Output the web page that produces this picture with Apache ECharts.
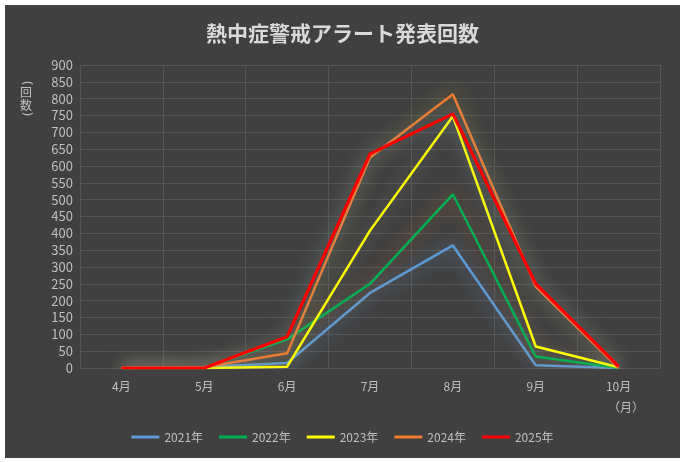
<!DOCTYPE html>
<html><head><meta charset="utf-8">
<script src="https://cdn.jsdelivr.net/npm/echarts@6/dist/echarts.min.js"></script>
<style>
html,body{margin:0;padding:0;background:#fff;width:685px;height:462px;overflow:hidden}
#c{position:absolute;left:5px;top:5px;width:675px;height:453px;background:#404040}
</style></head>
<body><div id="c"></div>
<script>
const months = ['4月','5月','6月','7月','8月','9月','10月'];
const yTicks = [0,50,100,150,200,250,300,350,400,450,500,550,600,650,700,750,800,850,900];
const s2021 = [0, 3, 15, 223, 364, 8, 0];
const s2022 = [0, 0, 85, 250, 516, 34, 0];
const s2023 = [0, 0, 4, 408, 748, 64, 2];
const s2024 = [0, 2, 44, 625, 813, 242, 0];
const s2025 = [0, 0, 93, 636, 755, 250, 5];
const seriesNames = ['2021年','2022年','2023年','2024年','2025年'];

const FONT = '"Noto Sans CJK JP","Noto Sans",sans-serif';
const chart = echarts.init(document.getElementById('c'));
const colors = ['#5b9bd5','#00b050','#ffff00','#ed7d31','#ff0000'];
const glows = ['rgba(120,170,225,0.8)','rgba(237,125,49,0.6)','rgba(170,170,150,0.55)','rgba(230,200,40,0.6)','rgba(110,160,215,0.65)'];
const widths = [2.5,2.5,2.5,2.5,3.2];
const data = [s2021,s2022,s2023,s2024,s2025];
const lab = {fill: '#bfbfbf', fontSize: 12, fontFamily: FONT, align: 'center', verticalAlign: 'middle'};
const par = {fill: '#bfbfbf', fontSize: 13, fontFamily: '"DejaVu Sans",sans-serif', align: 'center', verticalAlign: 'middle'};
chart.setOption({
  backgroundColor: 'transparent',
  textStyle: {fontFamily: FONT},
  title: {text: '熱中症警戒アラート発表回数', left: 'center', top: 13,
    textStyle: {color: '#d9d9d9', fontSize: 21, fontWeight: 'bold', fontFamily: FONT}},
  grid: {left: 75, right: 20, top: 60, bottom: 90},
  legend: {bottom: 10, left: 'center', itemWidth: 28, itemHeight: 3, itemGap: 16, icon: 'rect',
    data: seriesNames,
    textStyle: {color: '#bfbfbf', fontSize: 12, fontFamily: FONT}},
  xAxis: {type: 'category', data: months, boundaryGap: true,
    axisLine: {show: false}, axisTick: {show: false},
    axisLabel: {color: '#bfbfbf', fontSize: 12, margin: 12, fontFamily: FONT},
    splitLine: {show: true, lineStyle: {color: '#555555', width: 1}}},
  yAxis: {type: 'value', min: yTicks[0], max: yTicks[yTicks.length-1], interval: yTicks[1]-yTicks[0],
    axisLine: {show: false}, axisTick: {show: false},
    axisLabel: {color: '#bfbfbf', fontSize: 13, margin: 7, fontFamily: FONT},
    splitLine: {lineStyle: {color: '#555555', width: 1}}},
  graphic: [
    {type: 'text', x: 21, y: 78, rotation: -Math.PI/2, style: Object.assign({text: '('}, par)},
    {type: 'text', x: 21, y: 87, style: Object.assign({text: '回'}, lab)},
    {type: 'text', x: 21, y: 100, style: Object.assign({text: '数'}, lab)},
    {type: 'text', x: 21, y: 109, rotation: -Math.PI/2, style: Object.assign({text: ')'}, par)},
    {type: 'text', left: 603, top: 396, style: {text: '（月）', fill: '#bfbfbf', fontSize: 12, fontFamily: FONT}}
  ],
  series: seriesNames.map((n,i)=>({
    name: n, type: 'line', data: data[i], symbol: 'none', smooth: false,
    itemStyle: {color: colors[i]},
    lineStyle: {color: colors[i], width: widths[i], shadowBlur: 18, shadowColor: glows[i]},
    z: 2 + i
  }))
});
</script></body></html>
